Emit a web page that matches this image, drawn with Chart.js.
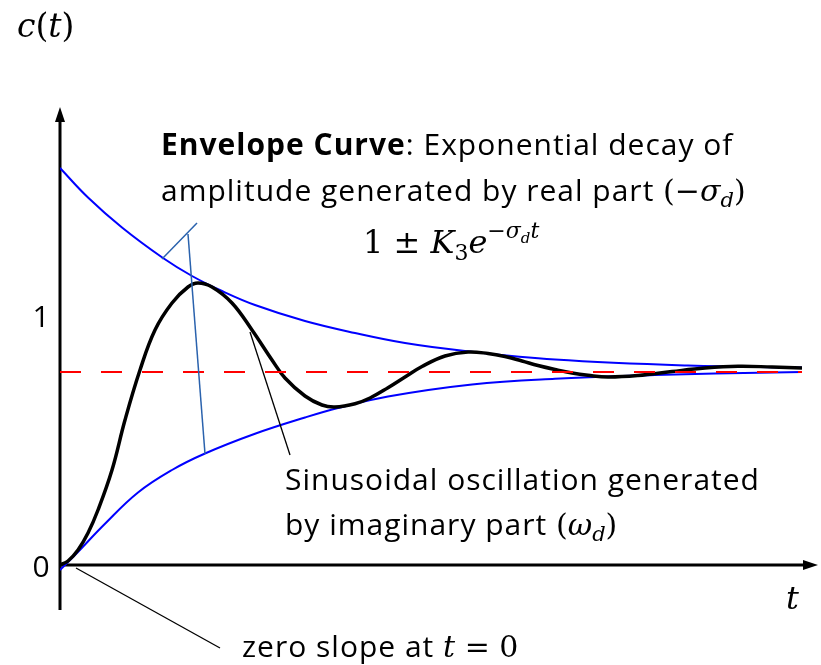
<!DOCTYPE html>
<html>
<head>
<meta charset="utf-8">
<script src="https://cdn.jsdelivr.net/npm/chart.js@4.4.1/dist/chart.umd.min.js"></script>
<style>
  html, body { margin: 0; padding: 0; background: #fff; overflow: hidden; }
  #wrap { width: 821px; height: 665px; }
</style>
</head>
<body>
<div id="wrap"><canvas id="stepChart"></canvas></div>
<script>
// underdamped step response c(t) with its decaying envelope
const responseT = [0, 0.08, 0.18, 0.28, 0.38, 0.52, 0.65, 0.80, 0.95, 1.12, 1.28, 1.38, 1.52, 1.72, 1.92, 2.12, 2.25, 2.45, 2.62, 2.75, 2.95, 3.10, 3.28, 3.45, 3.62, 3.85, 4.08, 4.28, 4.45, 4.62, 4.78, 4.95, 5.12, 5.28, 5.48, 5.78, 6.12, 6.45, 6.78, 7.12, 7.42];
const responseC = [0, 0.016, 0.06, 0.128, 0.22, 0.38, 0.58, 0.78, 0.94, 1.048, 1.112, 1.128, 1.112, 1.048, 0.94, 0.82, 0.748, 0.676, 0.64, 0.632, 0.645, 0.668, 0.709, 0.752, 0.794, 0.836, 0.852, 0.846, 0.834, 0.816, 0.798, 0.782, 0.768, 0.759, 0.752, 0.758, 0.774, 0.788, 0.795, 0.792, 0.788];

const upperT = [0, 0.28, 0.62, 1.03, 1.32, 1.62, 1.95, 2.45, 2.95, 3.45, 4.05, 4.95, 6.28, 7.42];
const upperC = [1.588, 1.47, 1.35, 1.228, 1.156, 1.096, 1.04, 0.976, 0.928, 0.888, 0.856, 0.822, 0.798, 0.79];

const lowerT = [0, 0.15, 0.45, 0.78, 1.12, 1.45, 1.95, 2.45, 2.78, 3.28, 4.12, 4.95, 5.95, 6.55, 7.42];
const lowerC = [-0.02, 0.04, 0.165, 0.29, 0.38, 0.446, 0.525, 0.59, 0.628, 0.674, 0.722, 0.745, 0.76, 0.766, 0.772];

const finalT = [0, 7.42];
const finalValue = 0.772;

const yTickValues = [0, 1];
const yTickLabels = ["0", "1"];

const toPoints = (xs, ys) => xs.map((x, i) => ({ x: x, y: ys[i] }));

const TEXT_FONT = '"Open Sans", "Lato", sans-serif';
const MATH_FONT = '"DejaVu Serif", "Liberation Serif", serif';

// leader lines, in data units
const leaders = [
  { from: [1.02, 1.224], to: [1.37, 1.368], color: "#2a62ad", width: 1.5 },
  { from: [1.28, 1.324], to: [1.45, 0.444], color: "#2a62ad", width: 1.5 },
  { from: [1.90, 0.932], to: [2.30, 0.44], color: "#000", width: 1.3 },
  { from: [0.16, -0.012], to: [1.60, -0.332], color: "#000", width: 1.3 }
];

const text = (s, size, style) => ({ s: s, font: (style || "") + " " + size + "px " + TEXT_FONT, dy: 0, ls: "1px" });
const math = (s, size, italic, dy) => ({ s: s, font: (italic ? "italic " : "") + size + "px " + MATH_FONT, dy: dy || 0, ls: "0px" });

// annotation text lines: left x, baseline y, runs
const captions = [
  { x: 17, y: 37, runs: [math("c", 33, true), math("(", 33), math("t", 33, true), math(")", 33)] },
  { x: 161, y: 155, runs: [text("Envelope Curve", 30, "bold"), text(": Exponential decay of", 30)] },
  { x: 161, y: 201, runs: [text("amplitude generated by real part ", 30), math("(\u2212", 30), math("\u03c3", 30, true), math("d", 21, true, 6), math(")", 30)] },
  { x: 363, y: 253, runs: [math("1 \u00b1 ", 32), math("K", 32, true), math("3", 22, false, 7), math("e", 32, true), math("\u2212", 22, false, -15), math("\u03c3", 22, true, -15), math("d", 15, true, -10), math("t", 22, true, -15)] },
  { x: 285, y: 490, runs: [text("Sinusoidal oscillation generated", 30)] },
  { x: 285, y: 535, runs: [text("by imaginary part ", 30), math("(", 30), math("\u03c9", 30, true), math("d", 21, true, 6), math(")", 30)] },
  { x: 242, y: 657, runs: [text("zero slope at ", 30), math("t", 30, true), math(" = 0", 30)] },
  { x: 786, y: 609, runs: [math("t", 32, true)] }
];

function drawRuns(ctx, x, y, runs) {
  runs.forEach(r => {
    ctx.font = r.font;
    ctx.letterSpacing = r.ls;
    ctx.fillText(r.s, x, y + r.dy);
    x += ctx.measureText(r.s).width;
  });
  ctx.letterSpacing = "0px";
}

const figureDecor = {
  id: "figureDecor",
  beforeDatasetsDraw(chart) {
    const { ctx, chartArea, scales } = chart;
    const x0 = scales.x.getPixelForValue(0);
    const y0 = scales.y.getPixelForValue(0);
    ctx.save();
    ctx.strokeStyle = "#000";
    ctx.fillStyle = "#000";
    ctx.lineWidth = 3;
    // vertical axis with arrow
    ctx.beginPath();
    ctx.moveTo(x0, chartArea.bottom);
    ctx.lineTo(x0, chartArea.top + 12);
    ctx.stroke();
    ctx.beginPath();
    ctx.moveTo(x0, chartArea.top);
    ctx.lineTo(x0 - 5, chartArea.top + 15);
    ctx.lineTo(x0 + 5, chartArea.top + 15);
    ctx.closePath();
    ctx.fill();
    // horizontal axis with arrow
    ctx.beginPath();
    ctx.moveTo(x0, y0);
    ctx.lineTo(chartArea.right - 12, y0);
    ctx.stroke();
    ctx.beginPath();
    ctx.moveTo(chartArea.right, y0);
    ctx.lineTo(chartArea.right - 15, y0 - 5);
    ctx.lineTo(chartArea.right - 15, y0 + 5);
    ctx.closePath();
    ctx.fill();
    ctx.restore();
  },
  afterDatasetsDraw(chart) {
    const { ctx, scales } = chart;
    const px = v => scales.x.getPixelForValue(v);
    const py = v => scales.y.getPixelForValue(v);
    ctx.save();
    leaders.forEach(l => {
      ctx.strokeStyle = l.color;
      ctx.lineWidth = l.width;
      ctx.beginPath();
      ctx.moveTo(px(l.from[0]), py(l.from[1]));
      ctx.lineTo(px(l.to[0]), py(l.to[1]));
      ctx.stroke();
    });
    ctx.fillStyle = "#000";
    ctx.textBaseline = "alphabetic";
    // y tick labels
    ctx.font = "30px " + TEXT_FONT;
    ctx.textAlign = "center";
    yTickValues.forEach((v, i) => {
      ctx.fillText(yTickLabels[i], 41, py(v) + 12);
    });
    ctx.textAlign = "left";
    captions.forEach(c => drawRuns(ctx, c.x, c.y, c.runs));
    ctx.restore();
  }
};

new Chart(document.getElementById("stepChart"), {
  type: "line",
  data: {
    datasets: [
      {
        label: "final value",
        data: toPoints(finalT, finalT.map(() => finalValue)),
        borderColor: "#ff0000",
        borderWidth: 2,
        borderDash: [21, 20],
        order: 0
      },
      {
        label: "c(t)",
        data: toPoints(responseT, responseC),
        borderColor: "#000",
        borderWidth: 3.5,
        tension: 0.4,
        order: 1
      },
      {
        label: "upper envelope",
        data: toPoints(upperT, upperC),
        borderColor: "#0000ff",
        borderWidth: 2,
        tension: 0.4,
        order: 2
      },
      {
        label: "lower envelope",
        data: toPoints(lowerT, lowerC),
        borderColor: "#0000ff",
        borderWidth: 2,
        tension: 0.4,
        order: 2
      }
    ]
  },
  options: {
    responsive: true,
    maintainAspectRatio: false,
    animation: false,
    layout: { padding: { left: 60, right: 3, top: 107, bottom: 55 } },
    elements: { point: { radius: 0 } },
    scales: {
      x: { type: "linear", display: false, min: 0, max: 7.58 },
      y: { display: false, min: -0.18, max: 1.832 }
    },
    plugins: {
      legend: { display: false },
      tooltip: { enabled: false }
    }
  },
  plugins: [figureDecor]
});
</script>
</body>
</html>
